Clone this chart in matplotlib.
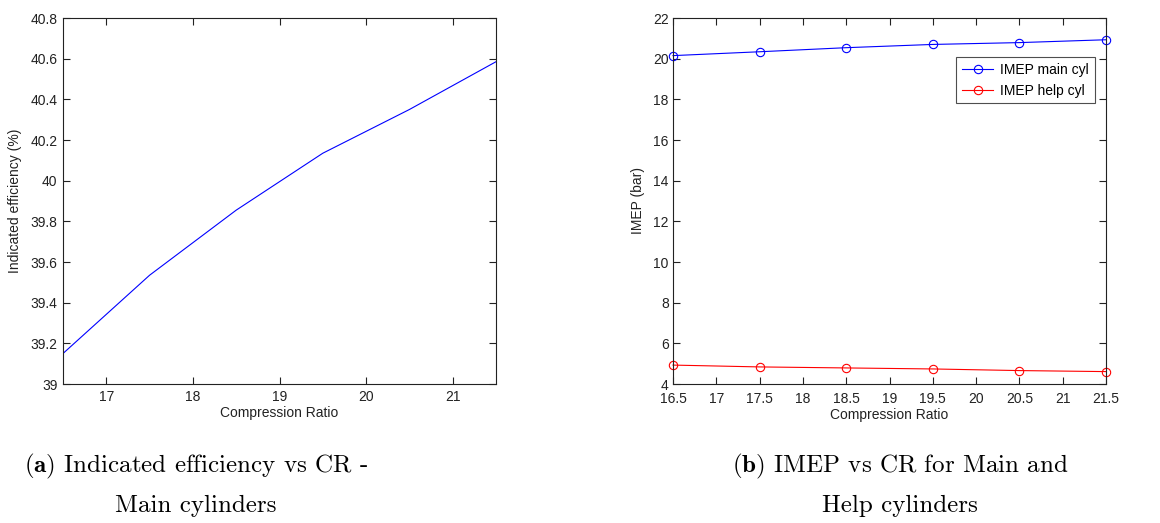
import numpy as np
import matplotlib
matplotlib.use('Agg')
import matplotlib.pyplot as plt

plt.rcParams['font.family'] = ['Liberation Sans', 'DejaVu Sans']
plt.rcParams['mathtext.fontset'] = 'cm'
plt.rcParams['axes.unicode_minus'] = False

# Data
cr = [16.5, 17.5, 18.5, 19.5, 20.5, 21.5]
eff_main = [39.15, 39.535, 39.855, 40.135, 40.35, 40.585]
imep_main = [20.15, 20.34, 20.54, 20.70, 20.79, 20.93]
imep_help = [4.93, 4.84, 4.79, 4.74, 4.66, 4.61]

fig = plt.figure(figsize=(11.6, 5.23), dpi=100)
W, H = 1160, 523

def px_axes(x0, y0, x1, y1):
    return fig.add_axes([x0 / W, 1 - y1 / H, (x1 - x0) / W, (y1 - y0) / H])

def matlab_style(ax):
    ax.tick_params(direction='in', top=True, right=True, length=5, width=0.8,
                   labelsize=10, colors='#222222', pad=4)
    for s in ax.spines.values():
        s.set_linewidth(0.8)
        s.set_color('#222222')

##### (a)
ax1 = px_axes(63, 18, 496, 384)
ax1.plot(cr, eff_main, color='#0000ff', lw=0.8)
ax1.set_xlim(16.5, 21.5)
ax1.set_ylim(39, 40.8)
ax1.set_xticks([17, 18, 19, 20, 21])
ax1.set_yticks(np.round(np.arange(39, 40.81, 0.2), 1))
ax1.set_yticklabels(['39', '39.2', '39.4', '39.6', '39.8', '40', '40.2', '40.4', '40.6', '40.8'])
ax1.set_xlabel('Compression Ratio', fontsize=10, color='#222222', labelpad=2)
ax1.set_ylabel('Indicated efficiency (%)', fontsize=10, color='#222222', labelpad=6)
matlab_style(ax1)

##### (b)
ax2 = px_axes(673, 18, 1106, 384)
ax2.plot(cr, imep_main, color='#0000ff', lw=0.8, marker='o', mfc='none',
         ms=6, mew=0.8, label='IMEP main cyl', clip_on=False)
ax2.plot(cr, imep_help, color='#ff0000', lw=0.8, marker='o', mfc='none',
         ms=6, mew=0.8, label='IMEP help cyl', clip_on=False)
ax2.set_xlim(16.5, 21.5)
ax2.set_ylim(4, 22)
ax2.set_xticks(np.arange(16.5, 21.51, 0.5))
ax2.set_xticklabels(['16.5', '17', '17.5', '18', '18.5', '19', '19.5', '20', '20.5', '21', '21.5'])
ax2.set_yticks(np.arange(4, 22.1, 2))
ax2.set_xlabel('Compression Ratio', fontsize=10, color='#222222', labelpad=1)
ax2.set_ylabel('IMEP (bar)', fontsize=10, color='#222222', labelpad=6)
matlab_style(ax2)
ax2.tick_params(axis='y', pad=3)
ax2.tick_params(axis='x', pad=6)
leg = ax2.legend(loc='upper right', bbox_to_anchor=(0.974, 0.893), borderaxespad=0,
                 fontsize=10, frameon=True, fancybox=False, edgecolor='#222222',
                 handlelength=2.3, handletextpad=0.5, borderpad=0.4, labelspacing=0.5)
leg.get_frame().set_linewidth(0.8)

##### captions
cap = dict(ha='center', va='center', fontsize=18, family='cmr10')
fig.text(196 / W, 1 - 466 / H, r'$\mathbf{(a)}$ Indicated efficiency vs CR -', **cap)
fig.text(196 / W, 1 - 506 / H, 'Main cylinders', **cap)
fig.text(900 / W, 1 - 466 / H, r'$\mathbf{(b)}$ IMEP vs CR for Main and', **cap)
fig.text(900 / W, 1 - 506 / H, 'Help cylinders', **cap)

plt.savefig('out.png', dpi=100)
